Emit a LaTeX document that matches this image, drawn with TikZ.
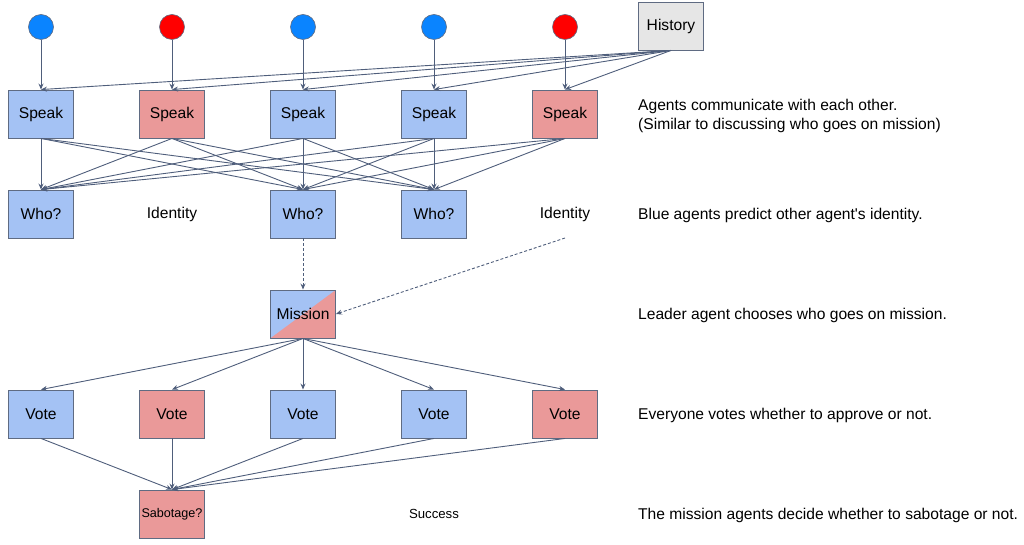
\documentclass[tikz,border=0pt]{standalone}
\usepackage{fontspec}
\setmainfont{Liberation Sans}
\usetikzlibrary{arrows.meta}

\definecolor{bluefill}{HTML}{A4C2F4}
\definecolor{redfill}{HTML}{EA9999}
\definecolor{histfill}{HTML}{E6E6E6}
\definecolor{boxline}{HTML}{5F6B82}
\definecolor{linkcol}{HTML}{4F5E7B}
\definecolor{blueagent}{HTML}{0A84FF}
\definecolor{redagent}{HTML}{FF0000}

\tikzset{
	box/.style={rectangle, draw=boxline, line width=0.9pt, minimum width=65pt, minimum height=48pt,
		inner sep=0pt, font=\fontsize{15.6}{18}\selectfont},
	bluebox/.style={box, fill=bluefill},
	redbox/.style={box, fill=redfill},
	token/.style={circle, draw=boxline, line width=0.6pt, minimum size=25pt, inner sep=0pt},
	link/.style={-{Stealth[length=6pt,width=5pt]}, draw=linkcol, line width=0.9pt},
	guess/.style={link, dash pattern=on 3pt off 2pt},
	note/.style={anchor=west, inner sep=0pt, align=left, font=\fontsize{15.6}{19}\selectfont},
}

\begin{document}
\begin{tikzpicture}[x=1pt, y=-1pt]
	\useasboundingbox (0, 0) rectangle (1024, 545);

	% agents
	\node[token, fill=blueagent] (a1) at (41, 27) {};
	\node[token, fill=redagent] (a2) at (172, 27) {};
	\node[token, fill=blueagent] (a3) at (303, 27) {};
	\node[token, fill=blueagent] (a4) at (434, 27) {};
	\node[token, fill=redagent] (a5) at (565, 27) {};
	\node[box, fill=histfill] (hist) at (671, 26) {History};

	% speak
	\node[bluebox] (s1) at (41, 114) {Speak};
	\node[redbox] (s2) at (172, 114) {Speak};
	\node[bluebox] (s3) at (303, 114) {Speak};
	\node[bluebox] (s4) at (434, 114) {Speak};
	\node[redbox] (s5) at (565, 114) {Speak};

	% who
	\node[bluebox] (w1) at (41, 214) {Who?};
	\node[box, draw=none] (id2) at (172, 214) {Identity};
	\node[bluebox] (w3) at (303, 214) {Who?};
	\node[bluebox] (w4) at (434, 214) {Who?};
	\node[box, draw=none] (id5) at (565, 214) {Identity};
	\coordinate (id5b) at (565, 238);

	% mission
	\node[box, path picture={
		\fill[redfill] (path picture bounding box.south west) rectangle (path picture bounding box.north east);
		\fill[bluefill] (path picture bounding box.south west) -- (path picture bounding box.north west)
			-- (path picture bounding box.north east) -- cycle;
	}] (mis) at (303, 314) {Mission};

	% vote
	\node[bluebox] (v1) at (41, 414) {Vote};
	\node[redbox] (v2) at (172, 414) {Vote};
	\node[bluebox] (v3) at (303, 414) {Vote};
	\node[bluebox] (v4) at (434, 414) {Vote};
	\node[redbox] (v5) at (565, 414) {Vote};

	% outcome
	\node[redbox, font=\fontsize{12.6}{15}\selectfont] (sab) at (172, 514) {Sabotage?};
	\node[box, draw=none, font=\fontsize{13.2}{15}\selectfont] (succ) at (434, 514) {Success};

	% links
	\draw[link] (a1) -- (s1);
	\draw[link] (a2) -- (s2);
	\draw[link] (a3) -- (s3);
	\draw[link] (a4) -- (s4);
	\draw[link] (a5) -- (s5);
	\path (hist.south) edge[link] (s1.north) edge[link] (s2.north) edge[link] (s3.north)
		edge[link] (s4.north) edge[link] (s5.north);

	\path (s1.south) edge[link] (w1.north) edge[link] (w3.north) edge[link] (w4.north);
	\path (s2.south) edge[link] (w1.north) edge[link] (w3.north) edge[link] (w4.north);
	\path (s3.south) edge[link] (w1.north) edge[link] (w3.north) edge[link] (w4.north);
	\path (s4.south) edge[link] (w1.north) edge[link] (w3.north) edge[link] (w4.north);
	\path (s5.south) edge[link] (w1.north) edge[link] (w3.north) edge[link] (w4.north);

	\draw[guess] (w3) -- (mis);
	\draw[guess] (id5b) -- (mis.east);

	\path (mis.south) edge[link] (v1.north) edge[link] (v2.north) edge[link] (v3.north)
		edge[link] (v4.north) edge[link] (v5.north);

	\draw[link] (v1.south) -- (sab.north);
	\draw[link] (v2.south) -- (sab.north);
	\draw[link] (v3.south) -- (sab.north);
	\draw[link] (v4.south) -- (sab.north);
	\draw[link] (v5.south) -- (sab.north);

	% labels
	\node[note] (n1) at (638, 116) {Agents communicate with each other.\\(Similar to discussing who goes on mission)};
	\node[note] (n2) at (638, 215) {Blue agents predict other agent\textquotesingle s identity.};
	\node[note] (n3) at (638, 315) {Leader agent chooses who goes on mission.};
	\node[note] (n4) at (638, 415) {Everyone votes whether to approve or not.};
	\node[note] (n5) at (638, 515) {The mission agents decide whether to sabotage or not.};
\end{tikzpicture}
\end{document}
